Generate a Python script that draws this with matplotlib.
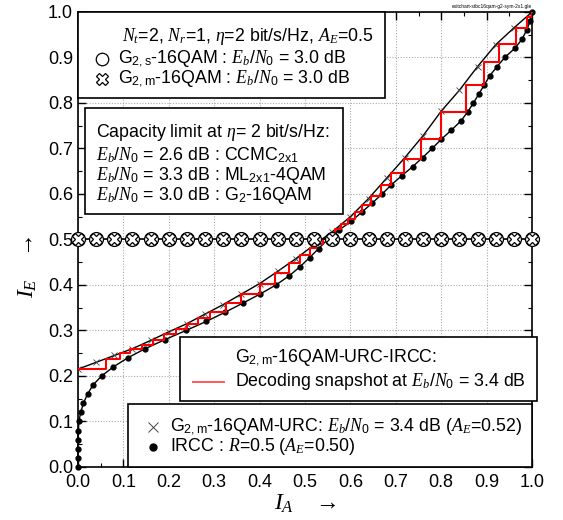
import numpy as np
import matplotlib
matplotlib.use("Agg")
import matplotlib.pyplot as plt
from matplotlib.patches import Rectangle
from matplotlib.lines import Line2D
from matplotlib.ticker import MultipleLocator, FormatStrFormatter

plt.rcParams['font.family'] = ['Liberation Sans', 'DejaVu Sans']
plt.rcParams['mathtext.fontset'] = 'custom'
plt.rcParams['mathtext.rm'] = 'Liberation Sans'
plt.rcParams['mathtext.it'] = 'Liberation Serif:italic'
plt.rcParams['mathtext.bf'] = 'Liberation Sans:bold'

# IRCC outer code curve (I_A plotted against I_E)
ircc_ie = [0.00, 0.02, 0.04, 0.06, 0.08, 0.10, 0.12, 0.14, 0.16, 0.18,
           0.20, 0.22, 0.24, 0.26, 0.28, 0.30, 0.32, 0.34, 0.36, 0.38,
           0.40, 0.42, 0.44, 0.46, 0.48, 0.50, 0.52, 0.54, 0.56, 0.58,
           0.60, 0.62, 0.64, 0.66, 0.68, 0.70, 0.72, 0.74, 0.76, 0.78,
           0.80, 0.82, 0.84, 0.86, 0.88, 0.90, 0.92, 0.94, 0.96, 0.98, 1.00]
ircc_ia = [0.000, 0.000, 0.000, 0.000, 0.001, 0.002, 0.006, 0.012, 0.021, 0.033,
           0.052, 0.078, 0.110, 0.148, 0.192, 0.238, 0.283, 0.324, 0.363, 0.401,
           0.436, 0.465, 0.489, 0.510, 0.530, 0.550, 0.574, 0.602, 0.625, 0.648,
           0.670, 0.690, 0.713, 0.737, 0.759, 0.780, 0.800, 0.822, 0.843, 0.858,
           0.871, 0.883, 0.895, 0.907, 0.923, 0.940, 0.962, 0.978, 0.988, 0.996, 1.000]

# G2,m-16QAM-URC inner curve
urc_ia = [0.00, 0.04, 0.08, 0.12, 0.16, 0.20, 0.24, 0.28, 0.32, 0.36, 0.40, 0.44, 0.48,
          0.52, 0.56, 0.60, 0.64, 0.68, 0.72, 0.76, 0.80, 0.84, 0.88, 0.92, 0.96, 1.00]
urc_ie = [0.215, 0.230, 0.245, 0.260, 0.278, 0.297, 0.315, 0.336, 0.357, 0.380, 0.403, 0.430, 0.458,
          0.488, 0.517, 0.550, 0.590, 0.635, 0.680, 0.728, 0.782, 0.828, 0.880, 0.928, 0.965, 1.000]

# G2,s / G2,m 16QAM curves (flat at A_E = 0.5)
g2_ia = [0.00, 0.04, 0.08, 0.12, 0.16, 0.20, 0.24, 0.28, 0.32, 0.36, 0.40, 0.44, 0.48,
         0.52, 0.56, 0.60, 0.64, 0.68, 0.72, 0.76, 0.80, 0.84, 0.88, 0.92, 0.96, 1.00]
g2s_ie = [0.5] * len(g2_ia)
g2m_ie = [0.5] * len(g2_ia)

# decoding trajectory corners
traj_ia = [0.0, 0.062, 0.092, 0.115, 0.14, 0.165, 0.19, 0.215, 0.24, 0.265,
           0.29, 0.325, 0.36, 0.40, 0.435, 0.465, 0.49, 0.51, 0.525, 0.54,
           0.555, 0.566, 0.58, 0.595, 0.61, 0.625, 0.645, 0.668, 0.69, 0.718,
           0.756, 0.80, 0.855, 0.895, 0.928, 0.965, 0.988, 1.0]
traj_ie = [0.215, 0.238, 0.25, 0.259, 0.269, 0.28, 0.292, 0.304, 0.315, 0.328,
           0.341, 0.36, 0.38, 0.403, 0.427, 0.449, 0.466, 0.481, 0.491, 0.502,
           0.513, 0.522, 0.534, 0.546, 0.56, 0.575, 0.595, 0.62, 0.645, 0.677,
           0.72, 0.78, 0.84, 0.89, 0.93, 0.965, 0.99, 1.0]

sx, sy = [], []
for i in range(len(traj_ia)):
    sx.append(traj_ia[i]); sy.append(traj_ie[i])
    if i + 1 < len(traj_ia):
        sx.append(traj_ia[i + 1]); sy.append(traj_ie[i])

fig = plt.figure(figsize=(5.63, 5.2), dpi=100)
ax = fig.add_axes([0.1385, 0.102, 0.8065, 0.875])

ax.plot(ircc_ia, ircc_ie, color='black', lw=1.0, marker='o', ms=3.5, zorder=3, clip_on=False)
ax.plot(urc_ia, urc_ie, color='black', lw=1.0, marker='x', ms=4.5, mec='#444444', mew=0.6, zorder=3)
ax.plot(sx, sy, color='#ff0000', lw=1.5, zorder=4)
ax.plot(g2_ia, g2s_ie, color='black', lw=1.2, marker='o', ms=10, mfc='white', mec='black', mew=0.9,
        zorder=5, clip_on=False)
ax.plot(g2_ia, g2m_ie, color='none', marker='X', ms=9, mfc='white', mec='black', mew=0.9,
        zorder=6, clip_on=False)

ax.set_xlim(0, 1)
ax.set_ylim(0, 1)
ax.xaxis.set_major_locator(MultipleLocator(0.1))
ax.yaxis.set_major_locator(MultipleLocator(0.1))
ax.xaxis.set_minor_locator(MultipleLocator(0.05))
ax.yaxis.set_minor_locator(MultipleLocator(0.05))
ax.xaxis.set_major_formatter(FormatStrFormatter('%.1f'))
ax.yaxis.set_major_formatter(FormatStrFormatter('%.1f'))
ax.tick_params(which='both', direction='in', top=True, right=True, labelsize=13)
ax.tick_params(which='major', length=6, width=1)
ax.tick_params(which='minor', length=3, width=0.8)
ax.tick_params(axis='x', pad=5)
ax.grid(True, which='major', color='#aaaaaa', lw=0.8, linestyle=(0, (1, 1.5)))
for s in ax.spines.values():
    s.set_linewidth(1.2)

ax.set_xlabel(r"$I_A$   $\rightarrow$", fontsize=17, labelpad=1)
ax.set_ylabel(r"$I_E$   $\rightarrow$", fontsize=17)
ax.yaxis.set_label_coords(-0.085, 0.44)

fs = 12.8
def box(x0, y0, x1, y1):
    ax.add_patch(Rectangle((x0, y0), x1 - x0, y1 - y0, transform=ax.transAxes,
                           facecolor='white', edgecolor='black', lw=1.2,
                           zorder=10, clip_on=False))

def txt(x, y, s):
    ax.text(x, y, s, transform=ax.transAxes, fontsize=fs, va='center', ha='left', zorder=11)

def mark(x, y, **kw):
    ax.add_line(Line2D([x], [y], transform=ax.transAxes, zorder=11, clip_on=False, **kw))

# box 1
box(0.0, 0.811, 0.676, 1.0)
txt(0.097, 0.945, r"$N_t$=2, $N_r$=1, $\eta$=2 bit/s/Hz, $A_E$=0.5")
mark(0.053, 0.897, marker='o', ms=9, mfc='white', mec='black', mew=0.9)
txt(0.088, 0.897, r"G$_\mathrm{2,s}$-16QAM : $E_b/N_0$ = 3.0 dB")
mark(0.053, 0.853, marker='X', ms=9, mfc='white', mec='black', mew=0.9)
txt(0.088, 0.853, r"G$_\mathrm{2,m}$-16QAM : $E_b/N_0$ = 3.0 dB")

# box 2
box(0.015, 0.556, 0.584, 0.789)
txt(0.040, 0.734, r"Capacity limit at $\eta$= 2 bit/s/Hz:")
txt(0.040, 0.686, r"$E_b/N_0$ = 2.6 dB : CCMC$_\mathrm{2x1}$")
txt(0.040, 0.640, r"$E_b/N_0$ = 3.3 dB : ML$_\mathrm{2x1}$-4QAM")
txt(0.040, 0.596, r"$E_b/N_0$ = 3.0 dB : G$_\mathrm{2}$-16QAM")

# box 3
box(0.225, 0.145, 1.011, 0.286)
txt(0.345, 0.240, r"G$_\mathrm{2,m}$-16QAM-URC-IRCC:")
ax.add_line(Line2D([0.253, 0.322], [0.187, 0.187], transform=ax.transAxes, color='#ff5a5a',
                   lw=1.4, zorder=11, clip_on=False))
txt(0.345, 0.187, r"Decoding snapshot at $E_b/N_0$ = 3.4 dB")

# box 4
box(0.110, 0.0, 1.0, 0.138)
mark(0.165, 0.088, marker='x', ms=7, mec='#444444', mew=0.7)
txt(0.203, 0.088, r"G$_\mathrm{2,m}$-16QAM-URC: $E_b/N_0$ = 3.4 dB ($A_E$=0.52)")
mark(0.165, 0.044, marker='o', ms=5, mfc='black', mec='black')
txt(0.203, 0.044, r"IRCC : $R$=0.5 ($A_E$=0.50)")

fig.text(0.945, 0.987, "exitchart-stbc16qam-g2-sym-2x1.gle", fontsize=3.5, ha='right', va='center')

fig.savefig("out.png", dpi=100)
